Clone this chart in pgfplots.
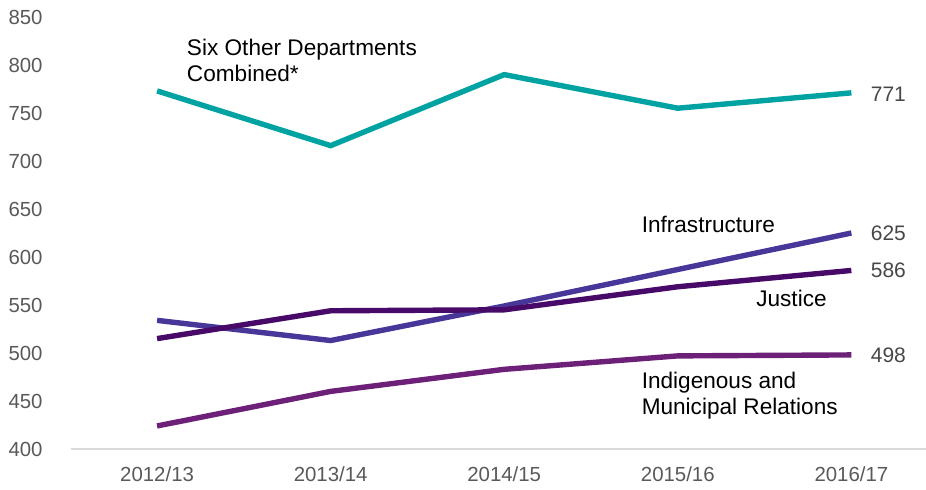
\documentclass[border=0pt]{standalone}
\usepackage{fontspec}
\setmainfont{Liberation Sans}
\usepackage{pgfplots}
\pgfplotsset{compat=1.18}
\definecolor{cteal}{HTML}{00A3A1}
\definecolor{cinfra}{HTML}{483698}
\definecolor{cjust}{HTML}{470A68}
\definecolor{cindig}{HTML}{6D2077}
\definecolor{ctick}{HTML}{595959}
\definecolor{cbase}{HTML}{D9D9D9}
\begin{document}
\begin{tikzpicture}
\path[use as bounding box] (0,0) rectangle (463pt,244.5pt);
\begin{axis}[
  at={(35.5pt,20pt)}, anchor=south west,
  scale only axis, width=427.5pt, height=216pt,
  xmin=-0.496, xmax=4.43, ymin=400, ymax=850,
  axis x line*=bottom, axis y line=none,
  x axis line style={draw=cbase, line width=0.8pt, -},
  xtick={0,1,2,3,4},
  xticklabels={2012/13,2013/14,2014/15,2015/16,2016/17},
  ytick={400,450,...,850},
  major tick length=0pt,
  tick style={draw=none},
  /pgf/number format/assume math mode=true,
  /pgf/number format/1000 sep={},
  ticklabel style={font=\fontsize{10.2}{12}\selectfont, text=ctick},
  xticklabel style={yshift=-5.5pt},
  clip=false,
]
\addplot[cteal, line width=2.7pt] coordinates {(0,773) (1,716) (2,790) (3,755) (4,771)};
\addplot[cinfra, line width=2.7pt] coordinates {(0,534) (1,513) (2,549) (3,587) (4,625)};
\addplot[cjust, line width=2.7pt] coordinates {(0,515) (1,544) (2,545) (3,569) (4,586)};
\addplot[cindig, line width=2.7pt] coordinates {(0,424) (1,460) (2,483) (3,497) (4,498)};
\foreach \v in {400,450,...,850} {
  \edef\tmp{\noexpand\node[anchor=east, font=\noexpand\fontsize{10.2}{12}\noexpand\selectfont, text=ctick, inner sep=0pt] at (axis cs:-0.496,\v) [xshift=-14pt] {\v};}
  \tmp
}
\node[anchor=west, align=left, font=\fontsize{11.3}{13}\selectfont, inner sep=0pt] at (axis cs:0.17,805) {Six Other Departments\\Combined*};
\node[anchor=west, font=\fontsize{11.3}{13}\selectfont, inner sep=0pt] at (axis cs:2.79,634) {Infrastructure};
\node[anchor=west, font=\fontsize{11.3}{13}\selectfont, inner sep=0pt] at (axis cs:3.45,557) {Justice};
\node[anchor=west, align=left, font=\fontsize{11.3}{13}\selectfont, inner sep=0pt] at (axis cs:2.79,455.5) {Indigenous and\\Municipal Relations};
\node[anchor=west, font=\fontsize{10.5}{12}\selectfont, text=ctick!80!black, inner sep=0pt] at (axis cs:4.11,770) {771};
\node[anchor=west, font=\fontsize{10.5}{12}\selectfont, text=ctick!80!black, inner sep=0pt] at (axis cs:4.11,625) {625};
\node[anchor=west, font=\fontsize{10.5}{12}\selectfont, text=ctick!80!black, inner sep=0pt] at (axis cs:4.11,586) {586};
\node[anchor=west, font=\fontsize{10.5}{12}\selectfont, text=ctick!80!black, inner sep=0pt] at (axis cs:4.11,498) {498};
\end{axis}
\end{tikzpicture}
\end{document}
